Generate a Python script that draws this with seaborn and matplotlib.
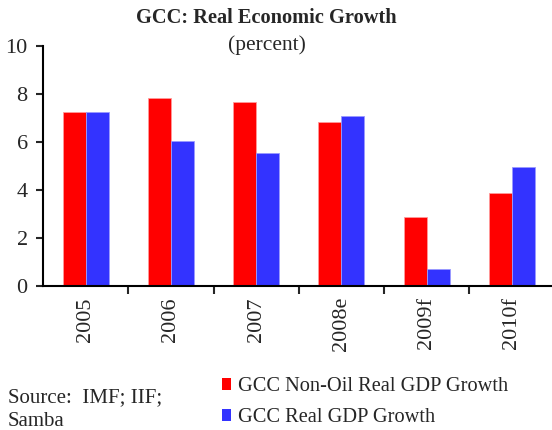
import matplotlib
matplotlib.use("Agg")
import matplotlib.pyplot as plt
import seaborn as sns
import pandas as pd
from matplotlib.ticker import FixedLocator

years = ["2005", "2006", "2007", "2008e", "2009f", "2010f"]
non_oil_growth = [7.25, 7.85, 7.68, 6.85, 2.87, 3.86]
real_gdp_growth = [7.25, 6.03, 5.53, 7.10, 0.72, 4.96]
series_names = ["GCC Non-Oil Real GDP Growth", "GCC Real GDP Growth"]
colors = ["#FF0000", "#3333FF"]

df = pd.DataFrame({
    "year": years * 2,
    "value": non_oil_growth + real_gdp_growth,
    "series": [series_names[0]] * len(years) + [series_names[1]] * len(years),
})

sns.set_style("white")
plt.rcParams["font.family"] = ["Liberation Serif", "DejaVu Serif"]

fig = plt.figure(figsize=(5.52, 4.30), dpi=100)
ax = fig.add_axes([43 / 552, 144 / 430, 509 / 552, 240 / 430])

sns.barplot(data=df, x="year", y="value", hue="series", hue_order=series_names,
            palette=colors, saturation=1, width=0.54, gap=0, ax=ax, legend=True,
            edgecolor="none", linewidth=0)

# light outline around each bar
for patch, ec in zip(ax.patches, ["#ff9a9a"] * 6 + ["#9a9aff"] * 6):
    patch.set_edgecolor(ec)
    patch.set_linewidth(0.6)

ax.set_xlim(-0.5, 5.47)
ax.set_ylim(0, 10)
ax.set_yticks([0, 2, 4, 6, 8, 10])
ax.set_xlabel("")
ax.set_ylabel("")

for side in ["top", "right"]:
    ax.spines[side].set_visible(False)
for side in ["left", "bottom"]:
    ax.spines[side].set_linewidth(1.5)
    ax.spines[side].set_color("black")

ax.tick_params(axis="y", direction="out", length=5, width=1.5, labelsize=16,
               pad=6, left=True)
ax.tick_params(axis="x", which="major", length=0, labelsize=16, pad=8,
               labelrotation=90)
ax.xaxis.set_minor_locator(FixedLocator([i + 0.5 for i in range(len(years))]))
ax.tick_params(axis="x", which="minor", direction="out", length=6, width=1.5,
               bottom=True)

handles, labels = ax.get_legend_handles_labels()
ax.get_legend().remove()
fig.legend(handles, labels, loc="upper left", bbox_to_anchor=(214 / 552, 1 - 369 / 430),
           frameon=False, fontsize=14.7, handlelength=0.45, handleheight=0.5,
           handletextpad=0.35, labelspacing=0.6, borderaxespad=0)

fig.text(266 / 552, 1 - 18 / 430, "GCC: Real Economic Growth", ha="center",
         va="center", fontsize=14.7, fontweight="bold")
fig.text(267 / 552, 1 - 45 / 430, "(percent)", ha="center", va="center",
         fontsize=15.5)
fig.text(8 / 552, 1 - 410 / 430, "Source:  IMF; IIF;\nSamba", ha="left",
         va="center", fontsize=15, linespacing=1.35)

fig.savefig("out.png", dpi=100)
